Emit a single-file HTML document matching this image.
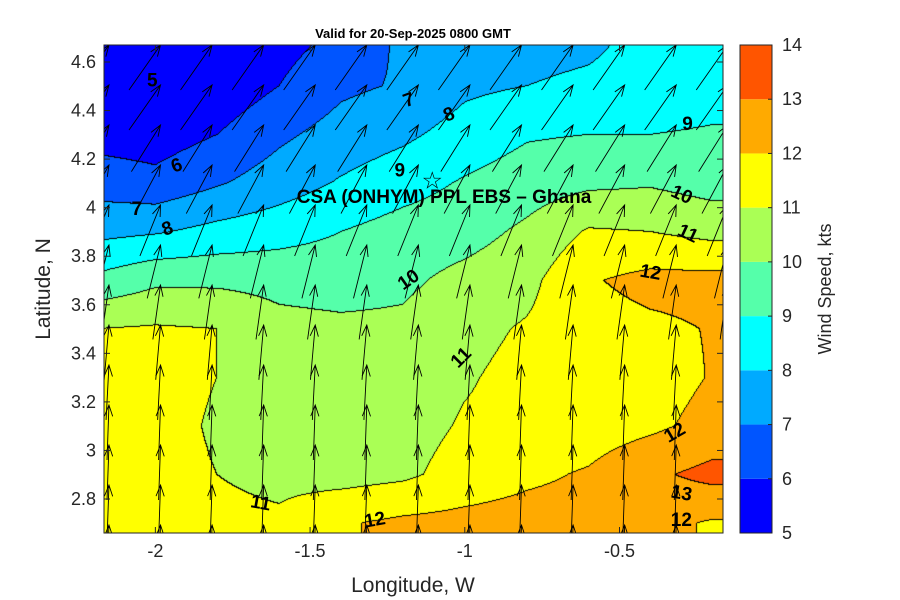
<!DOCTYPE html>
<html><head><meta charset="utf-8"><style>
body{margin:0;background:#fff;font-family:"Liberation Sans","DejaVu Sans",sans-serif}
#wrap{position:relative;width:900px;height:600px;overflow:hidden}
canvas{position:absolute;left:0;top:0}
svg{position:absolute;left:0;top:0}
</style></head><body>
<div id="wrap">
<canvas id="cv" width="900" height="600"></canvas>
<svg id="sv" width="900" height="600"></svg>
</div>
<script>
const lons=[-2.2,-2.0,-1.8,-1.6,-1.4,-1.2,-1.0,-0.8,-0.6,-0.4,-0.2];
const lats=[4.7,4.5,4.3,4.1,3.9,3.7,3.5,3.3,3.1,2.9,2.7];
const speed=[
[4.7,4.6,5.0,5.6,6.2,7.2,7.2,7.4,7.6,8.5,8.6],
[5.0,5.0,5.3,6.0,6.8,7.1,7.8,8.0,8.3,8.7,8.8],
[5.6,5.5,6.0,6.8,7.4,7.8,8.4,8.9,9.0,9.0,9.05],
[6.6,6.3,6.9,7.5,8.1,8.6,9.1,9.5,9.8,9.9,9.6],
[7.7,7.9,8.3,8.6,9.0,9.4,9.6,10.2,11.1,11.0,10.7],
[9.2,9.8,9.8,9.7,9.6,9.8,10.3,10.7,11.9,12.3,12.3],
[11.0,11.1,11.0,10.3,10.2,10.2,10.7,11.1,11.6,11.8,12.05],
[11.3,11.3,11.0,10.5,10.4,10.4,10.9,11.3,11.5,11.6,12.05],
[11.3,11.3,10.9,10.5,10.5,10.6,11.1,11.3,11.5,11.8,12.3],
[11.3,11.3,11.0,10.7,10.6,10.8,11.4,11.8,12.1,12.8,13.3],
[11.3,11.3,11.3,11.2,11.9,12.2,12.3,12.4,12.4,12.3,11.9]];
const levels=[5,6,7,8,9,10,11,12,13,14];
const levelColors=["#0000ff","#0055ff","#00aaff","#00ffff","#55ffaa","#aaff55","#ffff00","#ffaa00","#ff5500"];
const xTicks=[-2,-1.5,-1,-0.5];
const yTicks=[2.8,3,3.2,3.4,3.6,3.8,4,4.2,4.4,4.6];
const arrowAngles=[35,35,32,28,22,14,8,5,3,2,2,2,2];
const contourLabels=[[-2.01,4.52,"5",0],[-1.93,4.17,"6",-20],[-2.06,3.99,"7",0],[-1.96,3.91,"8",-20],[-1.18,4.44,"7",-20],[-1.05,4.38,"8",-20],[-1.21,4.15,"9",0],[-0.28,4.34,"9",0],[-0.3,4.05,"10",25],[-0.28,3.89,"11",25],[-0.4,3.73,"12",10],[-1.18,3.7,"10",-35],[-1.01,3.38,"11",-45],[-0.32,3.07,"12",-30],[-0.3,2.82,"13",10],[-0.3,2.71,"12",0],[-1.29,2.71,"12",-10],[-1.66,2.78,"11",10]];
const X0=104,X1=723,Y0=45,Y1=533,LON0=-2.166,LON1=-0.1655,LAT0=2.66,LAT1=4.67;
const xs=v=>X0+(v-LON0)/(LON1-LON0)*(X1-X0);
const ys=v=>Y1-(v-LAT0)/(LAT1-LAT0)*(Y1-Y0);
function val(lon,lat){
 let fi=(lon-lons[0])/(lons[1]-lons[0]);let fj=(lats[0]-lat)/(lats[0]-lats[1]);
 fi=Math.max(0,Math.min(lons.length-1.001,fi));fj=Math.max(0,Math.min(lats.length-1.001,fj));
 const i=Math.floor(fi),j=Math.floor(fj),a=fi-i,b=fj-j;
 return speed[j][i]*(1-a)*(1-b)+speed[j][i+1]*a*(1-b)+speed[j+1][i]*(1-a)*b+speed[j+1][i+1]*a*b;}
function lvl(v){let k=0;while(k<levels.length-2&&v>=levels[k+1])k++;return k;}
const cv=document.getElementById('cv'),ctx=cv.getContext('2d');
const W=X1-X0,H=Y1-Y0,L=[];
for(let py=0;py<H;py++){L[py]=[];for(let px=0;px<W;px++){
 const lon=LON0+(px+0.5)/W*(LON1-LON0),lat=LAT1-(py+0.5)/H*(LAT1-LAT0);L[py][px]=lvl(val(lon,lat));}}
const img=ctx.createImageData(W,H);
const rgb=levelColors.map(c=>[parseInt(c.substr(1,2),16),parseInt(c.substr(3,2),16),parseInt(c.substr(5,2),16)]);
for(let py=0;py<H;py++)for(let px=0;px<W;px++){
 let c=rgb[L[py][px]];const e=(px+1<W&&L[py][px+1]!=L[py][px])||(py+1<H&&L[py+1][px]!=L[py][px]);
 if(e)c=[0,0,0];const o=(py*W+px)*4;img.data[o]=c[0];img.data[o+1]=c[1];img.data[o+2]=c[2];img.data[o+3]=255;}
ctx.putImageData(img,X0,Y0);
const NS='http://www.w3.org/2000/svg',sv=document.getElementById('sv');
function mk(t,at,par){const e=document.createElementNS(NS,t);for(const k in at)e.setAttribute(k,at[k]);(par||sv).appendChild(e);return e;}
function txt(x,y,s,at){const e=mk('text',Object.assign({x:x,y:y},at));e.textContent=s;return e;}
const defs=mk('defs',{});const cp=mk('clipPath',{id:'pc'},defs);mk('rect',{x:X0,y:Y0,width:X1-X0,height:Y1-Y0},cp);
// arrows
const ag=mk('g',{stroke:'#000','stroke-width':0.9,fill:'none','clip-path':'url(#pc)'});

for(let r=0;r<arrowAngles.length;r++){for(let c=0;c<13;c++){
 const lon=-2.15+c/6,hx=xs(lon),hy=Y0+r*40,a=arrowAngles[r]*Math.PI/180,len=55;
 const tx=hx-Math.sin(a)*len,ty=hy+Math.cos(a)*len;
 const p=mk('path',{d:`M${tx},${ty}L${hx},${hy}M${hx-Math.sin(a+0.35)*12},${hy+Math.cos(a+0.35)*12}L${hx},${hy}L${hx-Math.sin(a-0.35)*12},${hy+Math.cos(a-0.35)*12}`},ag);
 }}
// contour labels
for(const [lo,la,s,rot] of contourLabels){const x=xs(lo),y=ys(la);
 const t=txt(x,y,s,{'font-size':19,'font-weight':'bold','text-anchor':'middle','dominant-baseline':'middle',transform:`rotate(${rot} ${x} ${y})`});
 }
// site
const st=txt(xs(-1.105),ys(4.11)+1,'☆',{'font-size':24,'text-anchor':'middle','dominant-baseline':'middle'});

const sl=txt(444,203,'CSA (ONHYM) PPL EBS  – Ghana',{'font-size':19,'font-weight':'bold','text-anchor':'middle'});

// axes
const ax=mk('rect',{x:X0,y:Y0,width:X1-X0,height:Y1-Y0,fill:'none',stroke:'#262626','stroke-width':1});

for(const t of xTicks){const x=xs(t);mk('line',{x1:x,x2:x,y1:Y1,y2:Y1-6,stroke:'#262626'});mk('line',{x1:x,x2:x,y1:Y0,y2:Y0+6,stroke:'#262626'});
 const e=txt(x,557,String(t),{'font-size':18,'text-anchor':'middle',fill:'#262626'});}
for(const t of yTicks){const y=ys(t);mk('line',{x1:X0,x2:X0+6,y1:y,y2:y,stroke:'#262626'});mk('line',{x1:X1,x2:X1-6,y1:y,y2:y,stroke:'#262626'});
 const e=txt(96,y+6,String(t),{'font-size':18,'text-anchor':'end',fill:'#262626'});}
const xt=txt(413,592,'Longitude, W',{'font-size':21,'text-anchor':'middle',fill:'#262626'});
const yt=txt(50,289,'Latitude, N',{'font-size':21,'text-anchor':'middle',fill:'#262626',transform:'rotate(-90 50 289)'});
const tt=txt(413,38,'Valid for 20-Sep-2025 0800 GMT',{'font-size':13,'font-weight':'bold','text-anchor':'middle'});
// colorbar
const CB0=740,CB1=772,cy=v=>Y1-(v-levels[0])/(levels[levels.length-1]-levels[0])*(Y1-Y0);
for(let k=0;k<levelColors.length;k++){const r=mk('rect',{x:CB0,y:cy(levels[k+1]),width:CB1-CB0,height:cy(levels[k])-cy(levels[k+1]),fill:levelColors[k]});
 }
mk('rect',{x:CB0,y:Y0,width:CB1-CB0,height:Y1-Y0,fill:'none',stroke:'#262626'});
for(const v of levels){const y=cy(v);mk('line',{x1:CB1-4,x2:CB1,y1:y,y2:y,stroke:'#262626'});
 const e=txt(782,y+6,String(v),{'font-size':18,fill:'#262626'});}
const ct=txt(831,289,'Wind Speed, kts',{'font-size':18,'text-anchor':'middle',fill:'#262626',transform:'rotate(-90 831 289)'});
</script>
</body></html>
